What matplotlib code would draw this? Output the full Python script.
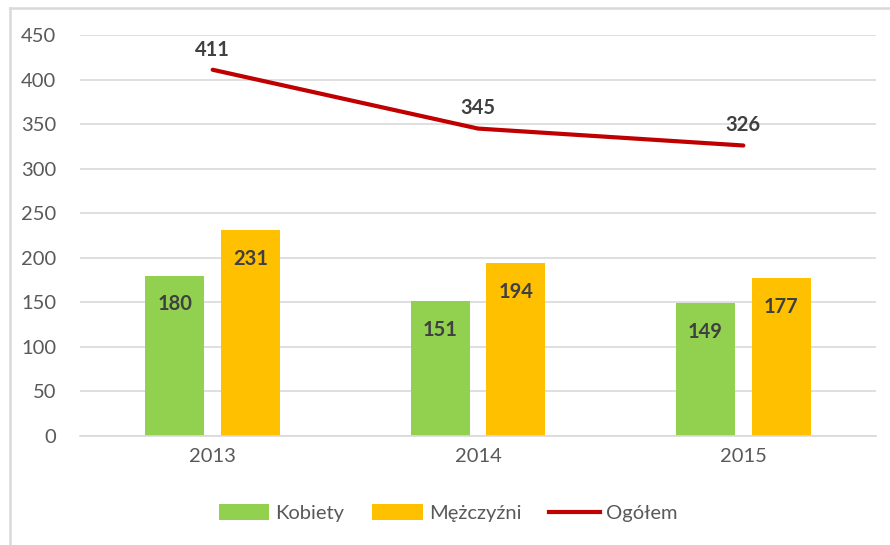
import matplotlib
matplotlib.use("Agg")
import matplotlib.pyplot as plt
import numpy as np
from matplotlib.lines import Line2D
from matplotlib.patches import Patch

years = ["2013", "2014", "2015"]
kobiety = [180, 151, 149]
mezczyzni = [231, 194, 177]
ogolem = [411, 345, 326]
yticks = [0, 50, 100, 150, 200, 250, 300, 350, 400, 450]

plt.rcParams['font.family'] = ['Lato', 'DejaVu Sans']

GREEN = "#92D050"
ORANGE = "#FFC000"
RED = "#C00000"
TXT = "#595959"
LBL = "#404040"

W, H = 890, 545
fig = plt.figure(figsize=(W / 100, H / 100), dpi=100)
ax = fig.add_axes([80 / W, 1 - 436 / H, (876 - 80) / W, (436 - 35) / H])

x = np.arange(len(years))
bw = 0.222
off = 0.143
ax.bar(x - off, kobiety, bw, color=GREEN, zorder=2)
ax.bar(x + off, mezczyzni, bw, color=ORANGE, zorder=2)
ax.plot(x, ogolem, color=RED, lw=3.0, solid_capstyle='round', zorder=3)

FS = 14.5
for xi, v in zip(x - off, kobiety):
    ax.annotate(str(v), (xi, v), xytext=(0, -20.5), textcoords='offset points',
                ha='center', va='center', fontsize=FS, fontweight='bold', color=LBL)
for xi, v in zip(x + off, mezczyzni):
    ax.annotate(str(v), (xi, v), xytext=(0, -21), textcoords='offset points',
                ha='center', va='center', fontsize=FS, fontweight='bold', color=LBL)
for xi, v in zip(x, ogolem):
    ax.annotate(str(v), (xi, v), xytext=(0, 14.5), textcoords='offset points',
                ha='center', va='center', fontsize=FS, fontweight='bold', color=LBL)

ax.set_xlim(-0.5, 2.5)
ax.set_ylim(0, 450)
ax.set_yticks(yticks)
ax.set_xticks(x)
ax.set_xticklabels(years)
ax.tick_params(axis='both', length=0, labelsize=FS, colors=TXT)
ax.tick_params(axis='y', pad=17)
ax.tick_params(axis='x', pad=9)
ax.grid(axis='y', color="#D9D9D9", lw=1.2, zorder=0)
ax.set_axisbelow(True)
for s in ['top', 'right', 'left']:
    ax.spines[s].set_visible(False)
ax.spines['bottom'].set_color("#D9D9D9")
ax.spines['bottom'].set_linewidth(1.2)

handles = [Patch(facecolor=GREEN, label="Kobiety"),
           Patch(facecolor=ORANGE, label="Mężczyźni"),
           Line2D([0], [0], color=RED, lw=3.0, label="Ogółem")]
fig.legend(handles=handles, loc='center', bbox_to_anchor=(448 / W, 1 - 513 / H),
           ncol=3, frameon=False, fontsize=FS, handlelength=2.5, handleheight=0.8,
           columnspacing=1.4, handletextpad=0.3, labelcolor=TXT)

# chart border (left and top visible)
fig.add_artist(Line2D([9.5 / W, 9.5 / W], [0, 1 - 8 / H], color="#D9D9D9", lw=1.8, transform=fig.transFigure))
fig.add_artist(Line2D([9.5 / W, 1], [1 - 8 / H, 1 - 8 / H], color="#D9D9D9", lw=1.8, transform=fig.transFigure))

fig.savefig("out.png", dpi=100)
